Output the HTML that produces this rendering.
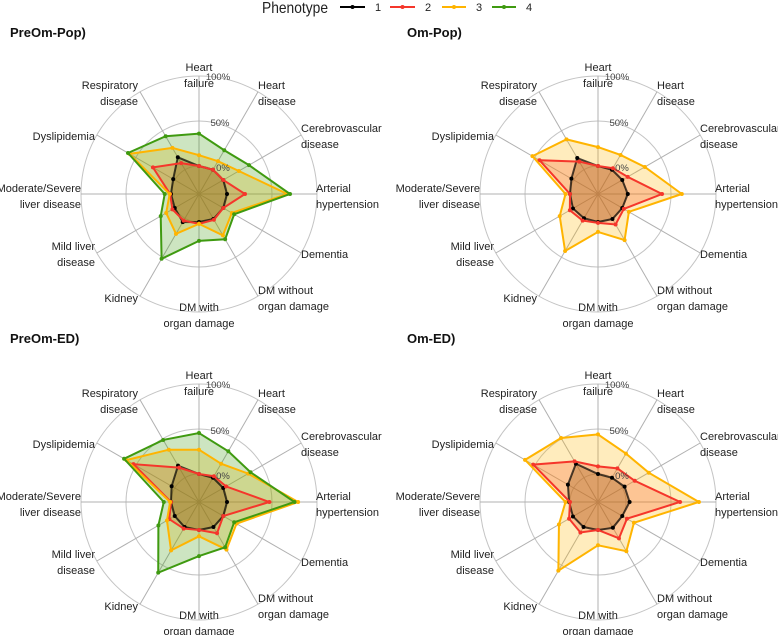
<!DOCTYPE html>
<html><head><meta charset="utf-8"><style>
html,body{margin:0;padding:0;background:#fff;}
svg{display:block;font-family:"Liberation Sans",sans-serif;}
</style></head><body>
<svg id="chart" width="778" height="635" viewBox="0 0 778 635" xmlns="http://www.w3.org/2000/svg">
<g>
<text x="262" y="13" font-size="16" fill="#222" textLength="66" lengthAdjust="spacingAndGlyphs">Phenotype</text>
<g><line x1="340" y1="7" x2="365" y2="7" stroke="#000" stroke-width="2"/><circle cx="352.5" cy="7" r="2" fill="#000"/><text x="375" y="11" font-size="11" fill="#222">1</text></g>
<g><line x1="390" y1="7" x2="415" y2="7" stroke="#f5362b" stroke-width="2"/><circle cx="402.5" cy="7" r="2" fill="#f5362b"/><text x="425" y="11" font-size="11" fill="#222">2</text></g>
<g><line x1="442" y1="7" x2="466" y2="7" stroke="#ffb400" stroke-width="2"/><circle cx="454" cy="7" r="2" fill="#ffb400"/><text x="476" y="11" font-size="11" fill="#222">3</text></g>
<g><line x1="492" y1="7" x2="516" y2="7" stroke="#3f9a10" stroke-width="2"/><circle cx="504" cy="7" r="2" fill="#3f9a10"/><text x="526" y="11" font-size="11" fill="#222">4</text></g>
</g>
</svg>
<script>
const categories = ["Heart failure","Heart disease","Cerebrovascular disease","Arterial hypertension","Dementia","DM without organ damage","DM with organ damage","Kidney","Mild liver disease","Moderate/Severe liver disease","Dyslipidemia","Respiratory disease"];
const panelTitles = ["PreOm-Pop)","Om-Pop)","PreOm-ED)","Om-ED)"];
const tickLabels = ["0%","50%","100%"];
const tickValues = [0,50,100];
const phenotypes = ["1","2","3","4"];
// values (%) per panel, per phenotype, per category
const preOmPop1 = [0,0,0,0,0,1,0,5,0,0,2,16];
const preOmPop2 = [0,0,0,20,0,2,2,3,3,1,28,8.5];
const preOmPop3 = [12,11,20,67,11,22,2,20,11,1.5,58,28];
const preOmPop4 = [36,25,33,70,14,27,21,52,18,7,60,43];
const omPop1 = [0,0,0,2,0,1,0,0,1,0,3,15];
const omPop2 = [0,2,7,40,2,8,1,3,5,0,44,10.5];
const omPop3 = [21,19,29,62,8.5,28,11,42,18,5,53,39];
const preOmEd1 = [0,0,0,0,0,1,0,1,0,0,4,15.5];
const preOmEd2 = [0,2,3.6,47,0,9,0,3,7,0,53,13];
const preOmEd3 = [27,18,32,79,17,30,7,31,10,1,62,36];
const preOmEd4 = [45.5,34,35,75,14,27,29,59.5,21,8,65,48.5];
const omEd1 = [0,0,3,4,0,2,0,1,1,1,7.5,18];
const omEd2 = [8.5,12,16,60,6,15.5,0,8,6,0,52,21];
const omEd3 = [44,31,34,81,15,32,17,57,19,5,62.5,51];
const panelSeries = [[preOmPop1,preOmPop2,preOmPop3,preOmPop4],[omPop1,omPop2,omPop3,null],[preOmEd1,preOmEd2,preOmEd3,preOmEd4],[omEd1,omEd2,omEd3,null]];

const colors = ["#000000","#f5362b","#ffb400","#3f9a10"];
const fills = ["#5a4020","#f5362b","#ffb400","#3f9a10"];
const centers = [[199,194],[598,194],[199,502],[598,502]];
const titlePos = [[10,37],[407,37],[10,343],[407,343]];
const R0 = 28, RMAX = 118;
function rScale(v){ return R0 + (RMAX - R0) * v / 100; }
function ang(i){ return i * Math.PI * 2 / categories.length; }
function pt(c,i,v){ const r=rScale(v), a=ang(i); return [c[0]+r*Math.sin(a), c[1]-r*Math.cos(a)]; }
const NS="http://www.w3.org/2000/svg";
const svg=document.getElementById('chart');
function mk(tag,attrs,parent){ const e=document.createElementNS(NS,tag); for(const k in attrs) e.setAttribute(k,attrs[k]); (parent||svg).appendChild(e); return e; }
const labelLines = [["Heart","failure"],["Heart","disease"],["Cerebrovascular","disease"],["Arterial","hypertension"],["Dementia"],["DM without","organ damage"],["DM with","organ damage"],["Kidney"],["Mild liver","disease"],["Moderate/Severe","liver disease"],["Dyslipidemia"],["Respiratory","disease"]];
const labelOff = [[0,-127,"middle"],[59,-109,"start"],[102,-66,"start"],[117,-6,"start"],[102,60,"start"],[59,96,"start"],[0,113,"middle"],[-61,104,"end"],[-104,52,"end"],[-118,-6,"end"],[-104,-58,"end"],[-61,-109,"end"]];
const tickOff = [[24,-27],[21,-72],[19,-118]];

panelSeries.forEach((series,p)=>{
  const c=centers[p];
  const g=mk('g',{});
  
  
  const t=mk('text',{x:titlePos[p][0],y:titlePos[p][1],'font-size':13,'font-weight':'bold',fill:'#111'},g);
  t.textContent=panelTitles[p];
  
  
  tickValues.forEach((v,k)=>{
    const ci=mk('circle',{cx:c[0],cy:c[1],r:rScale(v),fill:'none',stroke:'#c4c4c4','stroke-width':1},g);
    
    
  });
  categories.forEach((cat,i)=>{
    const e=pt(c,i,100);
    const ln=mk('line',{x1:c[0],y1:c[1],x2:e[0],y2:e[1],stroke:'#b0b0b0','stroke-width':1},g);
    
    
  });
  series.forEach((vals,s)=>{
    if(!vals) return;
    const pts=vals.map((v,i)=>pt(c,i,v));
    const pg=mk('polygon',{points:pts.map(q=>q.join(',')).join(' '),fill:fills[s],'fill-opacity':s===0?0.35:0.26,stroke:'none'},g);
    
    
  });
  series.forEach((vals,s)=>{
    if(!vals) return;
    const pts=vals.map((v,i)=>pt(c,i,v));
    const pl=mk('polygon',{points:pts.map(q=>q.join(',')).join(' '),fill:'none',stroke:colors[s],'stroke-width':2,'stroke-opacity':s===0?0.7:1},g);
    
    
    pts.forEach(q=>{
      const d=mk('circle',{cx:q[0],cy:q[1],r:2,fill:colors[s]},g);
      
      
    });
  });
  tickLabels.forEach((lab,k)=>{
    const tt=mk('text',{x:c[0]+tickOff[k][0],y:c[1]+tickOff[k][1]+4,'font-size':9.5,fill:'#444','text-anchor':'middle'},g);
    tt.textContent=lab;
    
    
  });
  labelLines.forEach((lines,i)=>{
    const o=labelOff[i];
    const tx=mk('text',{x:c[0]+o[0],y:c[1]+o[1],'font-size':11,fill:'#222','text-anchor':o[2]},g);
    
    
    lines.forEach((l,j)=>{
      const ts=mk('tspan',{x:c[0]+o[0],y:c[1]+o[1]+4+j*16},tx);
      ts.textContent=l;
    });
  });
});
</script>
</body></html>
